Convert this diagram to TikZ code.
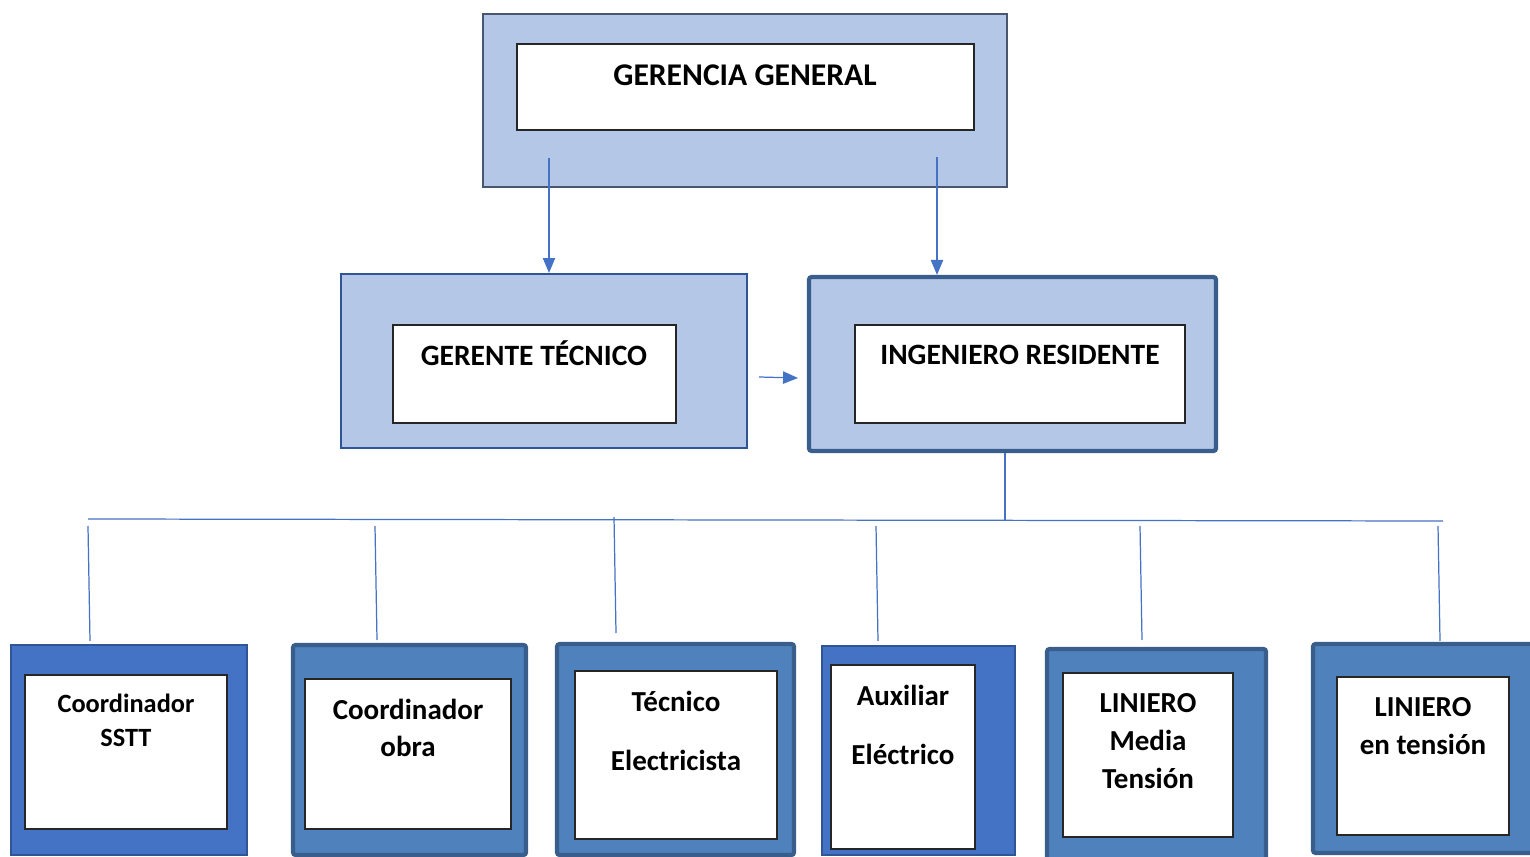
\documentclass[tikz,border=0pt]{standalone}
\usepackage{fontspec}
\setmainfont{Carlito}
\usepackage{xcolor}
\definecolor{paleblue}{HTML}{B4C7E7}
\definecolor{slateline}{HTML}{4A5670}
\definecolor{navyline}{HTML}{2F5597}
\definecolor{steelline}{HTML}{3A5E8C}
\definecolor{royalfill}{HTML}{4472C4}
\definecolor{steelfill}{HTML}{4F81BD}
\definecolor{linkblue}{HTML}{4472C4}
\usetikzlibrary{
  arrows.meta,
  positioning,
  fit
}

\begin{document}
\begin{tikzpicture}[
  x=0.02cm, y=-0.02cm,
  topbox/.style={
    draw=slateline, line width=1.5pt, fill=paleblue, inner sep=0pt
  },
  gtbox/.style={
    draw=navyline, line width=1.2pt, fill=paleblue, inner sep=0pt
  },
  irbox/.style={
    draw=steelline, line width=2.4pt, fill=paleblue, inner sep=0pt,
    rounded corners=1.5pt
  },
  rolebox/.style={
    draw=navyline, line width=1.1pt, fill=royalfill, inner sep=0pt
  },
  rolethick/.style={
    draw=steelline, line width=2.4pt, fill=steelfill, inner sep=0pt,
    rounded corners=1.5pt
  },
  inbox/.style={
    draw=black!85, line width=0.6pt, fill=white, inner sep=0pt
  },
  headtext/.style={
    font=\fontsize{18}{22}\selectfont\bfseries, align=center, inner sep=0pt
  },
  subtext/.style={
    font=\fontsize{16.8}{20}\selectfont\bfseries, align=center, inner sep=0pt
  },
  roletext/.style={
    font=\fontsize{16.5}{21.5}\selectfont\bfseries, align=center, inner sep=0pt
  },
  arrow/.style={-{Triangle[length=8.5pt, width=7pt]}, line width=0.7pt, draw=linkblue},
  link/.style={line width=0.7pt, draw=linkblue}
]
\useasboundingbox (0,0) rectangle (1530,857);

% top levels
\node[topbox, fit={(483,14) (1007,187)}] (gg) {};
\node[inbox, fit={(517,44) (974,130)}] (gg-in) {};
\node[headtext] (gg-t) at (745,75) {GERENCIA GENERAL};

\node[gtbox, fit={(341,274) (747,448)}] (gt) {};
\node[inbox, fit={(393,325) (676,423)}] (gt-in) {};
\node[subtext] (gt-t) at (534,353) {GERENTE TÉCNICO};

\node[irbox, fit={(809,277) (1216,451)}] (ir) {};
\node[inbox, fit={(855,325) (1185,423)}] (ir-in) {};
\node[subtext] (ir-t) at (1020,355) {INGENIERO RESIDENTE};

\coordinate (gg-l) at (549,158);
\coordinate (gg-r) at (937,157);
\draw[arrow] (gg-l) -- (gg-l |- gt.north);
\draw[arrow] (gg-r) -- (gg-r |- ir.north);
\coordinate (h1) at (759,377);
\coordinate (h2) at (798,378);
\draw[arrow] (h1) -- (h2);

% staff
\node[rolebox, fit={(11,645) (247,855)}] (c1) {};
\node[inbox, fit={(25,675) (227,829)}] (c1-in) {};
\node[roletext, font=\fontsize{15}{19.5}\selectfont\bfseries] (c1-t) at (126,720) {Coordinador\\SSTT};

\node[rolethick, fit={(293,645) (526,855)}] (c2) {};
\node[inbox, fit={(305,679) (511,829)}] (c2-in) {};
\node[roletext] (c2-t) at (408,728) {Coordinador\\obra};

\node[rolethick, fit={(557,644) (794,855)}] (c3) {};
\node[inbox, fit={(575,671) (777,839)}] (c3-in) {};
\node[roletext] (c3-t) at (676,731) {Técnico\\[12.5pt]Electricista};

\node[rolebox, fit={(822,646) (1015,855)}] (c4) {};
\node[inbox, fit={(831,665) (975,849)}] (c4-in) {};
\node[roletext] (c4-t) at (903,725) {Auxiliar\\[12.5pt]Eléctrico};

\node[rolethick, fit={(1047,649) (1266,870)}] (c5) {};
\node[inbox, fit={(1063,673) (1233,837)}] (c5-in) {};
\node[roletext] (c5-t) at (1148,741) {LINIERO\\Media\\Tensión};

\node[rolethick, fit={(1313,644) (1550,853)}] (c6) {};
\node[inbox, fit={(1337,677) (1509,835)}] (c6-in) {};
\node[roletext] (c6-t) at (1423,726) {LINIERO\\en tensión};

% bus
\coordinate (ir-s) at (1005,453);
\coordinate (bj) at (1005,520);
\coordinate (bl) at (88,519);
\coordinate (br) at (1443,521);
\draw[link] (ir-s) -- (bj);
\draw[link] (bl) -- (br);
\foreach \i/\xa/\ya/\xb/\yb in {1/88/526/90/641, 2/375/526/377/640, 3/614/517/616/633,
    4/876/526/878/641, 5/1140/526/1142/640, 6/1438/526/1440/641} {
  \coordinate (top\i) at (\xa,\ya);
  \coordinate (bot\i) at (\xb,\yb);
  \draw[link] (top\i) -- (bot\i);
}
\end{tikzpicture}
\end{document}
